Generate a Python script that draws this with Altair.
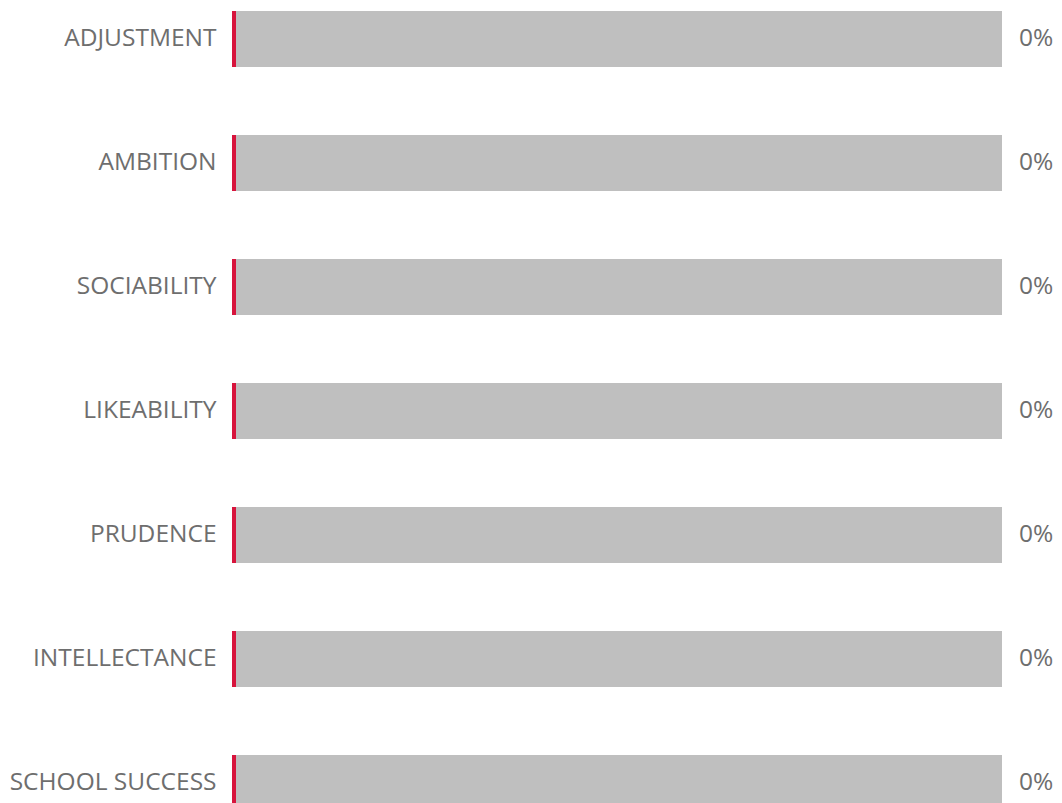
import altair as alt
import pandas as pd

categories = ["ADJUSTMENT", "AMBITION", "SOCIABILITY", "LIKEABILITY",
              "PRUDENCE", "INTELLECTANCE", "SCHOOL SUCCESS"]
values = [0, 0, 0, 0, 0, 0, 0]
max_value = 100

df = pd.DataFrame({
    "category": categories,
    "value": values,
    "full": [max_value] * len(categories),
    "label": [f"{v}%" for v in values],
})

FONT = "Open Sans"
TEXT = "#6e6e6e"

yscale = alt.Scale(domain=categories, range=[0, 800], paddingInner=0.548, paddingOuter=0)
xscale = alt.Scale(domain=[0, max_value], nice=False)

y = alt.Y("category:N", sort=categories, scale=yscale,
          axis=alt.Axis(title=None, domain=False, ticks=False, labelPadding=16,
                        labelFont=FONT, labelFontSize=24.5, labelColor=TEXT,
                        labelFontWeight="normal", labelLimit=300))

base = alt.Chart(df)

bg = base.mark_bar(color="#bfbfbf", clip=True).encode(
    y=y,
    x=alt.X("full:Q", scale=xscale, axis=None),
    x2=alt.datum(0),
)

score = base.mark_tick(color="#d7143c", opacity=1, thickness=4, size=56, xOffset=2, clip=True).encode(
    y=y,
    x=alt.X("value:Q", scale=xscale, axis=None),
)

txt = base.mark_text(align="left", baseline="middle", dx=17, font=FONT,
                     fontSize=24.5, color=TEXT, clip=False).encode(
    y=y,
    x=alt.X("full:Q", scale=xscale, axis=None),
    text="label:N",
)

chart = alt.layer(bg, score, txt).properties(
    width=770, height=792,
    autosize=alt.AutoSizeParams(type="none"),
    padding={"left": 232, "top": 11, "right": 60, "bottom": 0},
).configure_view(stroke=None)

chart.save("out.html", embed_options={"renderer": "svg", "actions": False})
